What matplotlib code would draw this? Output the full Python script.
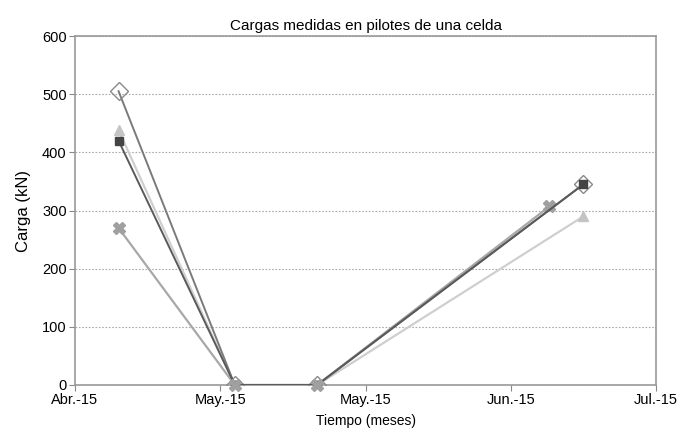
import matplotlib.pyplot as plt

plt.rcParams['font.family'] = ['Liberation Sans', 'DejaVu Sans']

# days counted from the first tick
dias_p1 = [9, 33, 50, 105]
carga_p1 = [505, 0, 0, 345]

dias_p2 = [9, 33, 50, 105]
carga_p2 = [420, 0, 0, 345]

dias_p3 = [9, 33, 50, 105]
carga_p3 = [438, 0, 0, 290]

dias_p4 = [9, 33, 50, 98]
carga_p4 = [270, 0, 0, 307]

tick_pos = [0, 30, 60, 90, 120]
tick_labels = ["Abr.-15", "May.-15", "May.-15", "Jun.-15", "Jul.-15"]

fig = plt.figure(figsize=(6.99, 4.36), dpi=100)
ax = fig.add_axes([0.1073, 0.117, 0.8312, 0.8004])

ax.plot(dias_p3, carga_p3, '-', color='#cfcfcf', lw=1.6,
        marker='^', ms=7, mfc='#c4c4c4', mec='#c4c4c4', zorder=3)
ax.plot(dias_p4, carga_p4, '-', color='#a8a8a8', lw=1.6,
        marker='X', ms=8, mfc='#a0a0a0', mec='#a0a0a0', zorder=3)
ax.plot(dias_p1, carga_p1, '-', color='#7a7a7a', lw=1.4,
        marker='D', ms=9, mfc='none', mec='#8a8a8a', mew=1.0, zorder=4)
ax.plot(dias_p2, carga_p2, '-', color='#5a5a5a', lw=1.4,
        marker='s', ms=6, mfc='#444444', mec='#444444', zorder=5)
# the crosses end up on top where every series sits at zero
ax.plot(dias_p4[1:3], carga_p4[1:3], 'X', ms=8, mfc='#a0a0a0',
        mec='#a0a0a0', zorder=6, clip_on=False)

ax.set_xlim(0, 120)
ax.set_ylim(0, 600)
ax.set_xticks(tick_pos)
ax.set_xticklabels(tick_labels, fontsize=10.5)
ax.set_yticks(range(0, 601, 100))
ax.tick_params(axis='y', labelsize=10.5, length=4, color='#888888', pad=2)
ax.tick_params(axis='x', length=4, color='#888888', pad=2)

ax.yaxis.grid(True, linestyle=(0, (1.5, 1.5)), color='#aaaaaa', lw=0.8)
ax.set_axisbelow(True)
for s in ax.spines.values():
    s.set_color('#999999')
    s.set_linewidth(1.2)

ax.set_title("Cargas medidas en pilotes de una celda", fontsize=11, pad=4)
ax.set_ylabel("Carga (kN)", fontsize=12, labelpad=8)
ax.set_xlabel("Tiempo (meses)", fontsize=10, labelpad=5)

fig.savefig("out.png", dpi=100)
